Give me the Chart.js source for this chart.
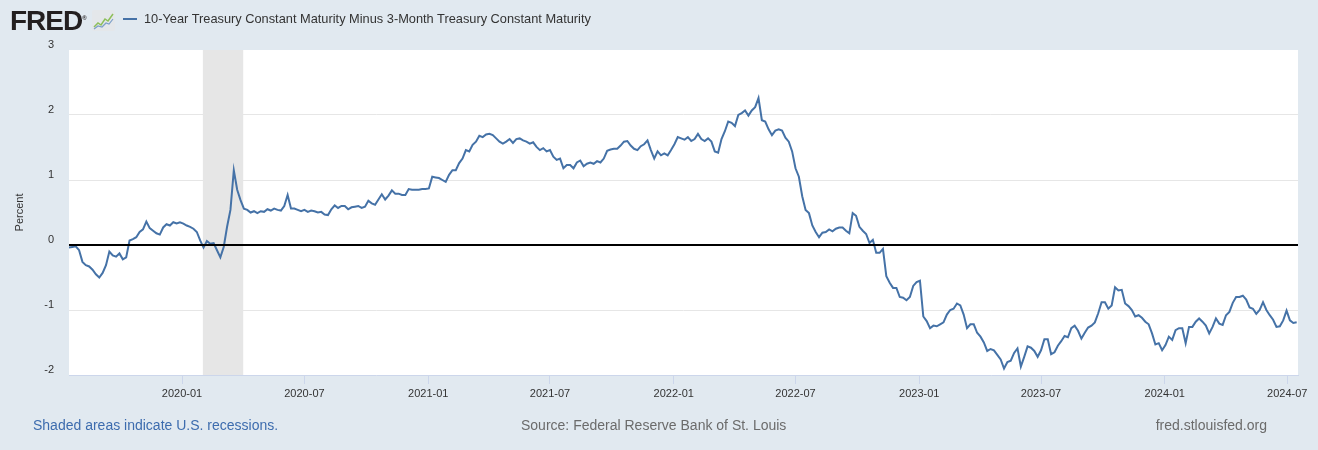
<!DOCTYPE html>
<html>
<head>
<meta charset="utf-8">
<script src="https://cdn.jsdelivr.net/npm/chart.js@4.4.1/dist/chart.umd.min.js"></script>
<style>
  body { margin: 0; background: #e1e9f0; font-family: "Liberation Sans", Arial, sans-serif; }
  #wrap { position: relative; width: 1318px; height: 450px; overflow: hidden; }
  #myChart { position: absolute; left: 0; top: 0; }
  .abs { position: absolute; white-space: nowrap; }
  #logo { left: 10px; top: 5px; font-weight: bold; font-size: 28px; letter-spacing: -1px; color: #231f20; }
  #logo sup { font-size: 6px; letter-spacing: 0; }
  #icon { left: 92px; top: 10px; }
  #legendLine { left: 123px; top: 18px; width: 14px; height: 2px; background: #4572a7; }
  #legendText { left: 144px; top: 11px; font-size: 12.8px; color: #333; }
  .foot { top: 417px; font-size: 14px; }
</style>
</head>
<body>
<div id="wrap">
  <canvas id="myChart" width="1318" height="450"></canvas>
  <div id="logo" class="abs">FRED<sup>®</sup></div>
  <svg id="icon" class="abs" width="23" height="21" viewBox="0 0 23 21">
    <rect x="0" y="0" width="23" height="21" rx="2" fill="#e4e7ea"/>
    <polyline points="2,17 6,13 9,15 13,9 16,11 21,4" fill="none" stroke="#8dbf5a" stroke-width="1.5"/>
    <polyline points="2,19 6,16 10,17 14,13 17,14 21,9" fill="none" stroke="#7d9fc8" stroke-width="1.2"/>
  </svg>
  <div id="legendLine" class="abs"></div>
  <div id="legendText" class="abs">10-Year Treasury Constant Maturity Minus 3-Month Treasury Constant Maturity</div>
  <div class="abs foot" style="left:33px; color:#3d6cae;">Shaded areas indicate U.S. recessions.</div>
  <div class="abs foot" style="left:521px; color:#6b6b6b;">Source: Federal Reserve Bank of St. Louis</div>
  <div class="abs foot" style="right:51px; color:#6b6b6b;">fred.stlouisfed.org</div>
</div>
<script>
const ctx = document.getElementById("myChart");

// ---- data ------------------------------------------------
const startDate = "2019-07-17";
const endDate = "2024-07-17";
const stepDays = 5; // one reading every 5 calendar days

// T10Y3M, percent
const spread = [
  -0.04, -0.03, -0.02, -0.08, -0.26, -0.31, -0.33, -0.38, -0.45, -0.50,
  -0.43, -0.31, -0.10, -0.16, -0.18, -0.13, -0.22, -0.19, 0.07, 0.09,
  0.12, 0.20, 0.24, 0.36, 0.26, 0.22, 0.18, 0.16, 0.27, 0.32,
  0.30, 0.35, 0.33, 0.35, 0.33, 0.30, 0.28, 0.25, 0.20, 0.07,
  -0.04, 0.06, 0.02, 0.03, -0.08, -0.19, -0.03, 0.28, 0.54, 1.15,
  0.85, 0.69, 0.56, 0.54, 0.50, 0.52, 0.49, 0.52, 0.51, 0.55,
  0.53, 0.56, 0.54, 0.53, 0.60, 0.77, 0.56, 0.56, 0.54, 0.52,
  0.54, 0.51, 0.53, 0.52, 0.50, 0.51, 0.47, 0.46, 0.55, 0.61,
  0.57, 0.60, 0.60, 0.55, 0.58, 0.59, 0.60, 0.57, 0.59, 0.68,
  0.64, 0.62, 0.70, 0.78, 0.70, 0.76, 0.84, 0.79, 0.79, 0.77,
  0.77, 0.86, 0.85, 0.85, 0.85, 0.86, 0.86, 0.87, 1.05, 1.04,
  1.03, 1.00, 0.97, 1.08, 1.15, 1.15, 1.26, 1.33, 1.46, 1.44,
  1.54, 1.59, 1.68, 1.66, 1.70, 1.71, 1.69, 1.64, 1.59, 1.56,
  1.59, 1.63, 1.57, 1.63, 1.64, 1.61, 1.59, 1.56, 1.58, 1.51,
  1.46, 1.49, 1.44, 1.46, 1.36, 1.31, 1.33, 1.18, 1.23, 1.23,
  1.18, 1.27, 1.30, 1.21, 1.25, 1.27, 1.25, 1.29, 1.27, 1.33,
  1.45, 1.47, 1.48, 1.48, 1.53, 1.59, 1.60, 1.53, 1.48, 1.46,
  1.52, 1.55, 1.61, 1.46, 1.33, 1.44, 1.38, 1.41, 1.38, 1.46,
  1.55, 1.66, 1.64, 1.62, 1.66, 1.60, 1.63, 1.71, 1.63, 1.60,
  1.64, 1.59, 1.44, 1.42, 1.63, 1.75, 1.90, 1.88, 1.83, 2.00,
  2.03, 2.07, 1.99, 2.07, 2.12, 2.26, 1.92, 1.90, 1.78, 1.69,
  1.76, 1.78, 1.76, 1.65, 1.59, 1.44, 1.18, 1.05, 0.75, 0.54,
  0.49, 0.30, 0.20, 0.12, 0.19, 0.20, 0.24, 0.21, 0.25, 0.27,
  0.27, 0.22, 0.18, 0.49, 0.45, 0.28, 0.22, 0.17, 0.03, 0.08,
  -0.12, -0.12, -0.06, -0.48, -0.58, -0.66, -0.66, -0.80, -0.81, -0.85,
  -0.80, -0.63, -0.57, -0.55, -1.10, -1.17, -1.28, -1.24, -1.25, -1.22,
  -1.19, -1.07, -1.00, -0.98, -0.90, -0.93, -1.07, -1.28, -1.22, -1.22,
  -1.35, -1.41, -1.50, -1.63, -1.60, -1.62, -1.69, -1.76, -1.90, -1.80,
  -1.78, -1.66, -1.59, -1.87, -1.72, -1.56, -1.58, -1.63, -1.72, -1.62,
  -1.45, -1.45, -1.68, -1.65, -1.55, -1.48, -1.40, -1.42, -1.28, -1.24,
  -1.32, -1.44, -1.35, -1.27, -1.24, -1.19, -1.05, -0.88, -0.88, -0.98,
  -0.93, -0.65, -0.70, -0.69, -0.90, -0.94, -1.00, -1.10, -1.08, -1.12,
  -1.18, -1.22, -1.36, -1.53, -1.51, -1.62, -1.54, -1.41, -1.46, -1.31,
  -1.28, -1.28, -1.51, -1.26, -1.26, -1.18, -1.13, -1.18, -1.24, -1.36,
  -1.26, -1.13, -1.21, -1.23, -1.08, -1.03, -0.89, -0.80, -0.80, -0.78,
  -0.84, -0.96, -0.98, -1.06, -1.00, -0.88, -1.00, -1.08, -1.15, -1.26,
  -1.25, -1.16, -1.01, -1.16, -1.20, -1.19,
];

const tickLabels = ["2020-01", "2020-07", "2021-01", "2021-07", "2022-01",
  "2022-07", "2023-01", "2023-07", "2024-01", "2024-07"];
const yTicks = [-2, -1, 0, 1, 2, 3];
const recessions = [["2020-02-01", "2020-04-01"]];

//------------------------------------------
const dayMs = 86400000;
function parseDay(s) {
  const p = s.split("-").map(Number);
  return Date.UTC(p[0], p[1] - 1, p[2] || 1);
}
const t0 = parseDay(startDate);
const dayOf = (s) => (parseDay(s) - t0) / dayMs;
const tickDays = tickLabels.map(dayOf);

const points = spread.map((v, i) => ({ x: i * stepDays, y: v }));

//------------------------------------------
const plotBg = {
  id: "plotBg",
  beforeDraw(chart) {
    const { ctx: c, chartArea: a, scales } = chart;
    c.save();
    c.fillStyle = "#ffffff";
    c.fillRect(a.left, a.top, a.right - a.left, a.bottom - a.top);
    c.fillStyle = "#e6e6e6";
    recessions.forEach(([s, e]) => {
      const x1 = scales.x.getPixelForValue(dayOf(s));
      const x2 = scales.x.getPixelForValue(dayOf(e));
      c.fillRect(x1, a.top, x2 - x1, a.bottom - a.top);
    });
    c.restore();
  },
  afterDatasetsDraw(chart) {
    const { ctx: c, chartArea: a, scales } = chart;
    const y = Math.round(scales.y.getPixelForValue(0));
    c.save();
    c.strokeStyle = "#000000";
    c.lineWidth = 2;
    c.beginPath();
    c.moveTo(a.left, y);
    c.lineTo(a.right, y);
    c.stroke();
    c.restore();
  },
};

//------------------------------------------
const myChart = new Chart(ctx, {
  type: "line",
  data: {
    datasets: [
      {
        label: "10-Year Treasury Constant Maturity Minus 3-Month Treasury Constant Maturity",
        data: points,
        borderColor: "#4572a7",
        borderWidth: 2,
        pointRadius: 0,
        tension: 0,
        spanGaps: false,
      },
    ],
  },
  options: {
    responsive: false,
    animation: false,
    layout: { padding: { top: 50, right: 20, bottom: 50, left: 0 } },
    plugins: {
      legend: { display: false },
      tooltip: { enabled: false },
    },
    scales: {
      x: {
        type: "linear",
        min: 0,
        max: dayOf(endDate),
        afterBuildTicks: (s) => {
          s.ticks = tickDays.map((v) => ({ value: v }));
        },
        afterFit: (s) => {
          s.height = 25;
        },
        ticks: {
          autoSkip: false,
          maxRotation: 0,
          padding: 3,
          color: "#333333",
          font: { family: "Liberation Sans", size: 11 },
          callback: (v) => tickLabels[tickDays.indexOf(v)],
        },
        grid: {
          drawOnChartArea: false,
          tickLength: 9,
          tickColor: "#ccd6eb",
        },
        border: { color: "#ccd6eb" },
      },
      y: {
        min: -2,
        max: 3,
        afterBuildTicks: (s) => {
          s.ticks = yTicks.map((v) => ({ value: v }));
        },
        afterFit: (s) => {
          s.width = 69;
        },
        ticks: {
          padding: 15,
          labelOffset: -5,
          color: "#333333",
          font: { family: "Liberation Sans", size: 11 },
        },
        grid: {
          drawTicks: false,
          color: (c) =>
            c.tick && (c.tick.value === 3 || c.tick.value === -2 || c.tick.value === 0)
              ? "rgba(0,0,0,0)"
              : "#e6e6e6",
        },
        border: { display: false },
        title: {
          display: true,
          text: "Percent",
          color: "#333333",
          font: { family: "Liberation Sans", size: 11 },
          padding: { top: 13, bottom: 0 },
        },
      },
    },
  },
  plugins: [plotBg],
});
</script>
</body>
</html>
